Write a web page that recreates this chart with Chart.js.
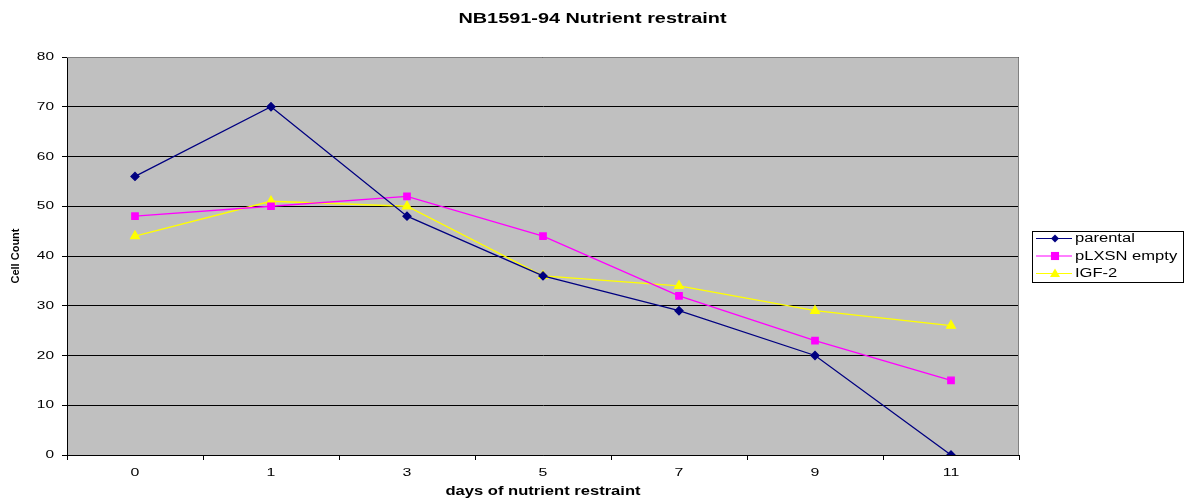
<!DOCTYPE html>
<html>
<head>
<meta charset="utf-8">
<script src="https://cdn.jsdelivr.net/npm/chart.js@4"></script>
<style>
html,body{margin:0;padding:0;background:#fff;}
#wrap{width:1185px;height:500px;position:relative;}
</style>
</head>
<body>
<div id="wrap"><canvas id="c" width="1185" height="500"></canvas></div>
<script>
const categories = ['0', '1', '3', '5', '7', '9', '11'];
const parental = [56, 70, 48, 36, 29, 20, 0];
const pLXSNempty = [48, 50, 52, 44, 32, 23, 15];
const igf2 = [44, 51, 50, 36, 34, 29, 26];
const seriesNames = ['parental', 'pLXSN empty', 'IGF-2'];
const yTicks = [0, 10, 20, 30, 40, 50, 60, 70, 80];
const chartTitle = 'NB1591-94 Nutrient restraint';

const FONT = '"Liberation Sans", Arial, sans-serif';

// The reference text is horizontally wide (stretched); emulate with a horizontal text scale.
const SX = 1.38;
(function () {
  const P = CanvasRenderingContext2D.prototype;
  const of = P.fillText, om = P.measureText;
  function upright(ctx) { const m = ctx.getTransform(); return Math.abs(m.b) < 1e-6 && Math.abs(m.c) < 1e-6; }
  P.fillText = function (t, x, y, mw) {
    if (!upright(this)) return of.call(this, t, x, y);
    this.save();
    this.translate(x, y);
    this.scale(SX, 1);
    of.call(this, t, 0, 0);
    this.restore();
  };
  P.measureText = function (t) {
    const m = om.call(this, t);
    if (!upright(this)) return m;
    return {width: m.width * SX, actualBoundingBoxAscent: m.actualBoundingBoxAscent,
            actualBoundingBoxDescent: m.actualBoundingBoxDescent,
            actualBoundingBoxLeft: m.actualBoundingBoxLeft * SX, actualBoundingBoxRight: m.actualBoundingBoxRight * SX};
  };
})();

const bgPlugin = {
  id: 'plotBg',
  beforeDraw(chart) {
    const {ctx, chartArea: a} = chart;
    ctx.save();
    ctx.fillStyle = '#C0C0C0';
    ctx.fillRect(a.left, a.top, a.right - a.left, a.bottom - a.top);
    ctx.restore();
  },
  afterDatasetsDraw(chart) {
    const {ctx, chartArea: a} = chart;
    ctx.save();
    ctx.strokeStyle = '#808080';
    ctx.lineWidth = 1;
    ctx.beginPath();
    ctx.moveTo(a.left, a.top + 0.5);
    ctx.lineTo(a.right - 0.5, a.top + 0.5);
    ctx.lineTo(a.right - 0.5, a.bottom);
    ctx.stroke();
    ctx.restore();
  }
};

const titlePlugin = {
  id: 'customTitle',
  afterDraw(chart) {
    const ctx = chart.ctx;
    ctx.save();
    ctx.fillStyle = '#000';
    ctx.font = 'bold 14.4px ' + FONT;
    ctx.textAlign = 'center';
    ctx.textBaseline = 'middle';
    ctx.fillText(chartTitle, chart.width / 2, 19.5);
    ctx.restore();
  }
};

function marker(ctx, style, cx, cy, r, color) {
  ctx.fillStyle = color;
  ctx.beginPath();
  if (style === 'rectRot') {
    ctx.moveTo(cx, cy - r); ctx.lineTo(cx + r, cy); ctx.lineTo(cx, cy + r); ctx.lineTo(cx - r, cy);
  } else if (style === 'rect') {
    ctx.rect(cx - r * 0.9, cy - r * 0.9, r * 1.8, r * 1.8);
  } else {
    ctx.moveTo(cx, cy - r); ctx.lineTo(cx + r, cy + r * 0.7); ctx.lineTo(cx - r, cy + r * 0.7);
  }
  ctx.closePath();
  ctx.fill();
}

const legendPlugin = {
  id: 'customLegend',
  afterDraw(chart) {
    const ctx = chart.ctx;
    const x0 = 1032, y0 = 231, w = 151, h = 51;
    ctx.save();
    ctx.fillStyle = '#fff';
    ctx.fillRect(x0, y0, w, h);
    ctx.strokeStyle = '#000';
    ctx.lineWidth = 1;
    ctx.strokeRect(x0 + 0.5, y0 + 0.5, w, h);
    chart.data.datasets.forEach((ds, i) => {
      const y = y0 + 7 + i * 17.5;
      ctx.strokeStyle = ds.borderColor;
      ctx.lineWidth = 1;
      ctx.beginPath();
      ctx.moveTo(x0 + 4, y + 0.5);
      ctx.lineTo(x0 + 40, y + 0.5);
      ctx.stroke();
      marker(ctx, ds.pointStyle, x0 + 23, y + 0.5, ds.pointRadius, ds.pointBackgroundColor);
      ctx.fillStyle = '#000';
      ctx.font = '12px ' + FONT;
      ctx.textBaseline = 'middle';
      ctx.textAlign = 'left';
      ctx.fillText(ds.label, x0 + 43, y + 1);
    });
    ctx.restore();
  }
};

new Chart(document.getElementById('c'), {
  type: 'line',
  data: {
    labels: categories,
    datasets: [
      {label: seriesNames[0], data: parental, borderColor: '#000080', backgroundColor: '#000080',
       pointBackgroundColor: '#000080', pointBorderColor: '#000080', pointStyle: 'rectRot', pointRadius: 4, borderWidth: 1.3},
      {label: seriesNames[1], data: pLXSNempty, borderColor: '#FF00FF', backgroundColor: '#FF00FF',
       pointBackgroundColor: '#FF00FF', pointBorderColor: '#FF00FF', pointStyle: 'rect', pointRadius: 4.5, borderWidth: 1.3},
      {label: seriesNames[2], data: igf2, borderColor: '#FFFF00', backgroundColor: '#FFFF00',
       pointBackgroundColor: '#FFFF00', pointBorderColor: '#FFFF00', pointStyle: 'triangle', pointRadius: 5, borderWidth: 1.3}
    ]
  },
  options: {
    responsive: false,
    animation: false,
    layout: {padding: {left: 0, right: 166, top: 57, bottom: 0}},
    elements: {line: {tension: 0}},
    plugins: {
      legend: {display: false},
      tooltip: {enabled: false},
      title: {display: false}
    },
    scales: {
      x: {
        type: 'category',
        offset: true,
        afterFit(scale) { scale.height = 45; },
        grid: {offset: true, drawOnChartArea: false, drawTicks: true, tickLength: 5, color: '#000', lineWidth: 1},
        border: {display: true, color: '#000', width: 1},
        ticks: {color: '#000', font: {family: FONT, size: 11.5}, padding: 6, maxRotation: 0},
        title: {display: true, text: 'days of nutrient restraint', color: '#000',
                font: {family: FONT, size: 12, weight: 'bold'}, padding: {top: 0, bottom: 1.5}}
      },
      y: {
        min: 0, max: 80,
        afterFit(scale) { scale.width = 67; },
        afterBuildTicks(scale) { scale.ticks = yTicks.map(v => ({value: v})); },
        grid: {color: '#000', lineWidth: 1, tickLength: 5, drawTicks: true},
        border: {display: true, color: '#000', width: 1},
        ticks: {color: '#000', font: {family: FONT, size: 11.2}, padding: 8},
        title: {display: true, text: 'Cell Count', color: '#000',
                font: {family: FONT, size: 11, weight: 'bold'}, padding: {top: 9, bottom: 0}}
      }
    }
  },
  plugins: [bgPlugin, titlePlugin, legendPlugin]
});
</script>
</body>
</html>
